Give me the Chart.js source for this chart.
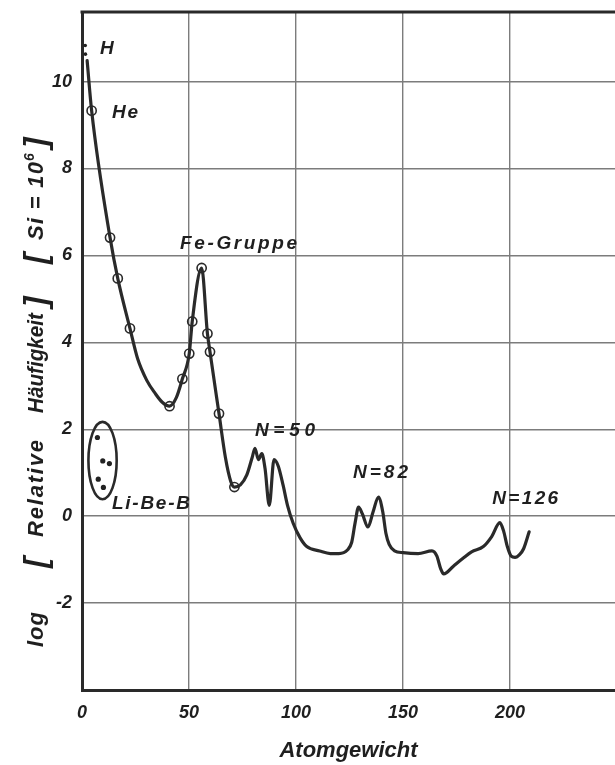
<!DOCTYPE html>
<html>
<head>
<meta charset="utf-8">
<script src="https://cdn.jsdelivr.net/npm/chart.js@4.4.1/dist/chart.umd.min.js"></script>
<style>
html,body{margin:0;padding:0;background:#ffffff;}
#wrap{width:615px;height:765px;position:relative;}
</style>
</head>
<body>
<div id="wrap"><canvas id="c"></canvas></div>
<script>
// ---- data ----
const curveX = [2.4, 4.5, 13.1, 16.7, 22.4, 26, 30.2, 34.1, 37.5, 40.9, 44, 46.9, 50.1, 51.5, 55.9, 58.6, 59.8, 64, 67, 69.5, 71.2, 74, 77, 79.5, 80.8, 82.4, 84, 85.5, 87.5, 89.7, 91.7, 94, 96, 98.7, 101.9, 105, 111, 116, 120, 124, 126, 127.6, 129.2, 131, 133.6, 136, 138.5, 140.5, 142, 143.5, 146, 150, 157, 163.5, 165.8, 167.5, 169, 173.5, 178, 182, 187.5, 191.4, 195.2, 197, 198.7, 200.5, 202.3, 204.5, 206.3, 208.9];
const curveY = [10.48, 9.33, 6.41, 5.47, 4.32, 3.62, 3.13, 2.83, 2.62, 2.53, 2.72, 3.16, 3.74, 4.48, 5.71, 4.2, 3.78, 2.36, 1.35, 0.8, 0.67, 0.72, 0.95, 1.35, 1.56, 1.3, 1.44, 1.1, 0.25, 1.3, 1.15, 0.7, 0.25, -0.17, -0.5, -0.7, -0.8, -0.86, -0.86, -0.78, -0.6, -0.15, 0.21, 0.05, -0.25, 0.1, 0.44, 0.1, -0.4, -0.65, -0.8, -0.84, -0.86, -0.8, -0.92, -1.2, -1.33, -1.15, -0.97, -0.82, -0.7, -0.47, -0.15, -0.35, -0.7, -0.92, -0.95, -0.88, -0.75, -0.36];
const markerX = [4.5, 13.1, 16.7, 22.4, 40.9, 46.9, 50.1, 51.5, 55.9, 58.6, 59.8, 64, 71.2];
const markerY = [9.33, 6.41, 5.47, 4.32, 2.53, 3.16, 3.74, 4.48, 5.71, 4.2, 3.78, 2.36, 0.67];
const hydrogenX = [1.5, 1.6];
const hydrogenY = [10.83, 10.63];
const lightX = [7.2, 9.7, 12.8, 7.6, 10.0];
const lightY = [1.81, 1.27, 1.21, 0.85, 0.66];
const lightEllipseCenter = [9.6, 1.28];
const lightEllipseRadius = [6.6, 0.89];
const xTicks = [0, 50, 100, 150, 200];
const yTicks = [-2, 0, 2, 4, 6, 8, 10];
const annotationText = ['H', 'He', 'Fe-Gruppe', 'N=50', 'N=82', 'N=126', 'Li-Be-B'];
const annotationX = [8.4, 14.0, 45.8, 80.8, 126.6, 191.6, 14.0];
const annotationY = [10.64, 9.17, 6.14, 1.84, 0.87, 0.28, 0.16];
// ---- styling ----
const FONT = '"Liberation Sans", Arial, Helvetica, sans-serif';
const INK = '#1f1f1f';
const GRID = '#7c7c7c';
const annotationWidths = [15, 26, 117, 60, 55, 66, 78];

function pts(xs, ys){ return xs.map((x,i)=>({x:x, y:ys[i]})); }

function fitText(ctx, text, x, y, w){
  ctx.save();
  ctx.letterSpacing = '0px';
  const w0 = ctx.measureText(text).width;
  if (w0 >= w || text.length < 2){
    ctx.translate(x, y);
    if (w0 > w) ctx.scale(w / w0, 1);
    ctx.fillText(text, 0, 0);
  } else {
    ctx.letterSpacing = ((w - w0) / (text.length - 1)) + 'px';
    ctx.fillText(text, x, y);
  }
  ctx.restore();
}

const framePlugin = {
  id: 'frame',
  afterDatasetsDraw(chart){
    const ctx = chart.ctx, a = chart.chartArea;
    const xs = chart.scales.x, ys = chart.scales.y;
    ctx.save();
    // top border
    ctx.strokeStyle = '#2a2a2a';
    ctx.lineWidth = 3;
    ctx.beginPath();
    ctx.moveTo(a.left - 1.5, a.top);
    ctx.lineTo(chart.width, a.top);
    ctx.stroke();
    // ellipse around Li-Be-B
    const cx = xs.getPixelForValue(lightEllipseCenter[0]);
    const cy = ys.getPixelForValue(lightEllipseCenter[1]);
    const rx = Math.abs(xs.getPixelForValue(lightEllipseCenter[0] + lightEllipseRadius[0]) - cx);
    const ry = Math.abs(ys.getPixelForValue(lightEllipseCenter[1] + lightEllipseRadius[1]) - cy);
    ctx.lineWidth = 2.6;
    ctx.beginPath();
    ctx.ellipse(cx, cy, rx, ry, 0, 0, Math.PI * 2);
    ctx.stroke();
    // annotations
    ctx.fillStyle = INK;
    ctx.textBaseline = 'alphabetic';
    ctx.textAlign = 'left';
    ctx.font = 'italic bold 19px ' + FONT;
    annotationText.forEach((t, i) => {
      fitText(ctx, t, xs.getPixelForValue(annotationX[i]), ys.getPixelForValue(annotationY[i]), annotationWidths[i]);
    });
    // y-axis title (rotated)
    const base = 43;
    const parts = [
      {t:'log', a:647, b:612, s:22},
      {t:'[', a:568, b:0, s:32},
      {t:'Relative', a:537, b:440, s:22},
      {t:'Häufigkeit', a:413, b:313, s:22},
      {t:']', a:307, b:0, s:32},
      {t:'[', a:264, b:0, s:32},
      {t:'Si = 10', a:240, b:162, s:22},
      {t:'6', a:161, b:0, s:14, up:9},
      {t:']', a:148, b:0, s:32}
    ];
    parts.forEach(p => {
      ctx.save();
      ctx.font = 'italic bold ' + p.s + 'px ' + FONT;
      ctx.translate(base - (p.up || 0) + (p.s > 30 ? 3 : 0), p.a);
      ctx.rotate(-Math.PI / 2);
      if (p.b) fitText(ctx, p.t, 0, 0, p.a - p.b);
      else ctx.fillText(p.t, 0, 0);
      ctx.restore();
    });
    ctx.restore();
  }
};

new Chart(document.getElementById('c'), {
  type: 'line',
  data: {
    datasets: [
      {label:'Messpunkte', data: pts(markerX, markerY), showLine:false, pointRadius:4.6, pointBorderWidth:1.6,
       pointBorderColor:'#2a2a2a', pointBackgroundColor:'rgba(255,255,255,0)'},
      {label:'H', data: pts(hydrogenX, hydrogenY), showLine:false, pointRadius:1.8, pointBorderWidth:0,
       pointBackgroundColor:'#222'},
      {label:'Li-Be-B', data: pts(lightX, lightY), showLine:false, pointRadius:2.6, pointBorderWidth:0,
       pointBackgroundColor:'#222'},
      {label:'log Häufigkeit', data: pts(curveX, curveY), borderColor:'#2a2a2a', borderWidth:3.2, pointRadius:0,
       cubicInterpolationMode:'monotone', fill:false, borderCapStyle:'round', borderJoinStyle:'round'}
    ]
  },
  options: {
    responsive: true,
    maintainAspectRatio: false,
    animation: false,
    layout: {autoPadding: false, padding: {top: 12, right: 0, left: 0, bottom: 0}},
    plugins: {legend: {display: false}, tooltip: {enabled: false}},
    scales: {
      x: {
        type: 'linear', min: 0, max: 249,
        afterBuildTicks: s => { s.ticks = xTicks.map(v => ({value: v})); },
        afterFit: s => { s.height = 75; s.paddingLeft = 0; s.paddingRight = 0; },
        grid: {color: GRID, lineWidth: 1.4, drawTicks: false},
        border: {display: true, width: 3, color: '#2a2a2a'},
        ticks: {color: INK, padding: 12, maxRotation: 0, autoSkip: false,
                font: {family: FONT, size: 18, style: 'italic', weight: 'bold'}},
        title: {display: true, text: 'Atomgewicht', color: INK, padding: {top: 0, bottom: 1},
                font: {family: FONT, size: 22, style: 'italic', weight: 'bold'}}
      },
      y: {
        type: 'linear', min: -4, max: 11.6,
        afterBuildTicks: s => { s.ticks = yTicks.map(v => ({value: v})); },
        afterFit: s => { s.width = 82; s.paddingTop = 0; s.paddingBottom = 0; },
        grid: {color: GRID, lineWidth: 1.4, drawTicks: false},
        border: {display: true, width: 3, color: '#2a2a2a'},
        ticks: {color: INK, padding: 10, autoSkip: false,
                font: {family: FONT, size: 18, style: 'italic', weight: 'bold'}}
      }
    }
  },
  plugins: [framePlugin]
});
</script>
</body>
</html>
